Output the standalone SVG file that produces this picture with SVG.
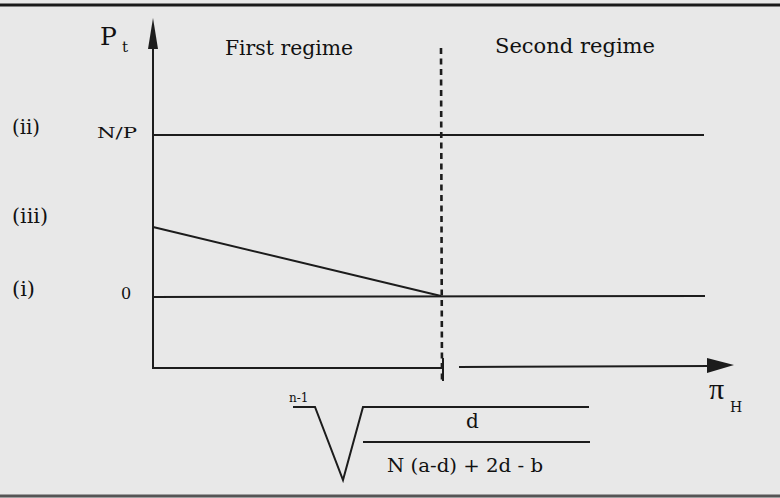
<svg xmlns="http://www.w3.org/2000/svg" width="780" height="498" viewBox="0 0 780 498">
  <defs>
    <style>
      .ln { stroke: #1c1c1c; stroke-width: 2; fill: none; }
      .dash { stroke: #1c1c1c; stroke-width: 2.6; stroke-dasharray: 6 4.5; fill: none; }
      .t { font-family: "DejaVu Serif", "Liberation Serif", serif; fill: #111111; }
    </style>
  </defs>
  <rect x="0" y="0" width="780" height="498" fill="#e8e8e8"/>
  <!-- page rules -->
  <line x1="0" y1="5" x2="780" y2="5" stroke="#1a1a1a" stroke-width="3"/>
  <line x1="0" y1="496" x2="780" y2="496" stroke="#555" stroke-width="3"/>

  <g id="axes">
    <line class="ln" x1="153" y1="40" x2="153" y2="369"/>
    <polygon points="153,18 148,49 158,49" fill="#1c1c1c"/>
    <line class="ln" x1="152" y1="368" x2="443" y2="368"/>
    <line class="ln" x1="443" y1="358" x2="443" y2="381"/>
    <line class="ln" x1="459" y1="367" x2="712" y2="366"/>
    <polygon points="734,365 707,358 707,373" fill="#1c1c1c"/>
  </g>

  <g id="curves">
    <line class="ln" x1="153" y1="135" x2="704" y2="135"/>
    <line class="ln" x1="153" y1="297" x2="705" y2="296"/>
    <line class="ln" x1="153" y1="227" x2="441" y2="296"/>
    <line class="dash" x1="441" y1="48" x2="442" y2="384"/>
  </g>

  <g id="labels">
    <text class="t" x="100" y="45" font-size="25">P</text>
    <text class="t" x="122" y="52" font-size="15">t</text>
    <text class="t" x="225" y="55" font-size="20" textLength="128" lengthAdjust="spacingAndGlyphs">First regime</text>
    <text class="t" x="495" y="53" font-size="20.5" textLength="160" lengthAdjust="spacingAndGlyphs">Second regime</text>
    <text class="t" x="12" y="134" font-size="20" textLength="28" lengthAdjust="spacingAndGlyphs">(ii)</text>
    <text class="t" x="97" y="138" font-size="15" textLength="40" lengthAdjust="spacingAndGlyphs">N/P</text>
    <text class="t" x="12" y="223" font-size="20" textLength="36" lengthAdjust="spacingAndGlyphs">(iii)</text>
    <text class="t" x="12" y="296" font-size="20" textLength="23" lengthAdjust="spacingAndGlyphs">(i)</text>
    <text class="t" x="121" y="299" font-size="16">0</text>
    <text x="709" y="399" font-size="30" font-family="Liberation Serif, serif" fill="#111111">π</text>
    <text class="t" x="730" y="412" font-size="14">H</text>
  </g>

  <g id="formula">
    <text class="t" x="289" y="402" font-size="12">n-1</text>
    <polyline class="ln" points="293,407 315,407 343,480 363,407 589,407"/>
    <line class="ln" x1="363" y1="442" x2="590" y2="442"/>
    <text class="t" x="466" y="428" font-size="20">d</text>
    <text class="t" x="387" y="472" font-size="19" textLength="156" lengthAdjust="spacingAndGlyphs">N (a-d) + 2d - b</text>
  </g>
</svg>
